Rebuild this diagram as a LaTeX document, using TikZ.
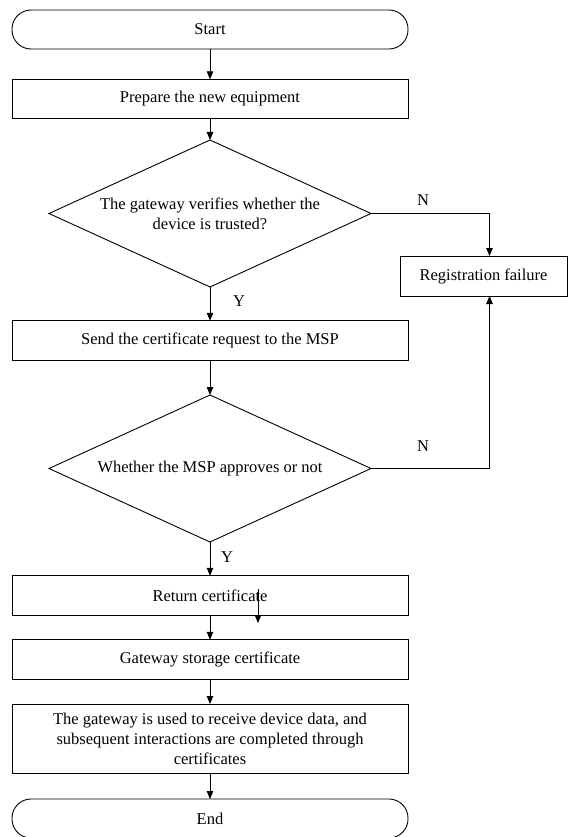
\documentclass[tikz,border=0pt]{standalone}
\usepackage{fontspec}
\setmainfont{Liberation Serif}
\usetikzlibrary{shapes.geometric,arrows.meta}
\begin{document}
\begin{tikzpicture}[x=1bp,y=-1bp,
  every node/.style={font=\fontsize{16.5bp}{20bp}\selectfont, inner sep=0pt, outer sep=0pt},
  proc/.style={draw, line width=0.9bp, rectangle, minimum width=396bp, minimum height=39.5bp, align=center},
  term/.style={draw, line width=0.9bp, rectangle, rounded corners=19bp, minimum width=396bp, minimum height=39bp},
  dec/.style={draw, line width=0.9bp, diamond, aspect=2.19, minimum width=322bp, minimum height=147bp, align=center},
  arr/.style={line width=0.9bp, -{Triangle[length=8bp,width=6.5bp]}}]
\useasboundingbox (0,0) rectangle (568,837);
\node[term] (start) at (210,29.5) {Start};
\node[proc] (prep) at (210,99) {Prepare the new equipment};
\node[dec] (d1) at (210,213.5) {The gateway verifies whether the\\device is trusted?};
\node[proc, minimum width=167bp, minimum height=40bp] (reg) at (483.5,276) {Registration failure};
\node[proc] (send) at (210,340.5) {Send the certificate request to the MSP};
\node[dec] (d2) at (210,468.5) {Whether the MSP approves or not};
\node[proc] (ret) at (210,595.5) {Return certificate};
\node[proc] (gsc) at (210,659.5) {Gateway storage certificate};
\node[proc, minimum height=69bp] (use) at (210,738.5) {The gateway is used to receive device data, and\\subsequent interactions are completed through\\certificates};
\node[term] (end) at (210,818.5) {End};
\node (n1) at (423,200) {N};
\node (n2) at (423,446) {N};
\node (y1) at (239,301) {Y};
\node (y2) at (227,557) {Y};
\coordinate (s1) at (258,589);
\coordinate (s2) at (258,623);
\draw[arr] (start) -- (prep);
\draw[arr] (prep) -- (d1);
\draw[arr] (d1) -- (send);
\draw[arr] (d1.east) -| ([xshift=6bp]reg.north);
\draw[arr] (send) -- (d2);
\draw[arr] (d2.east) -| ([xshift=6bp]reg.south);
\draw[arr] (d2) -- (ret);
\draw[arr] (ret) -- (gsc);
\draw[arr] (gsc) -- (use);
\draw[arr] (use) -- (end);
\draw[arr] (s1) -- (s2);
\end{tikzpicture}
\end{document}
